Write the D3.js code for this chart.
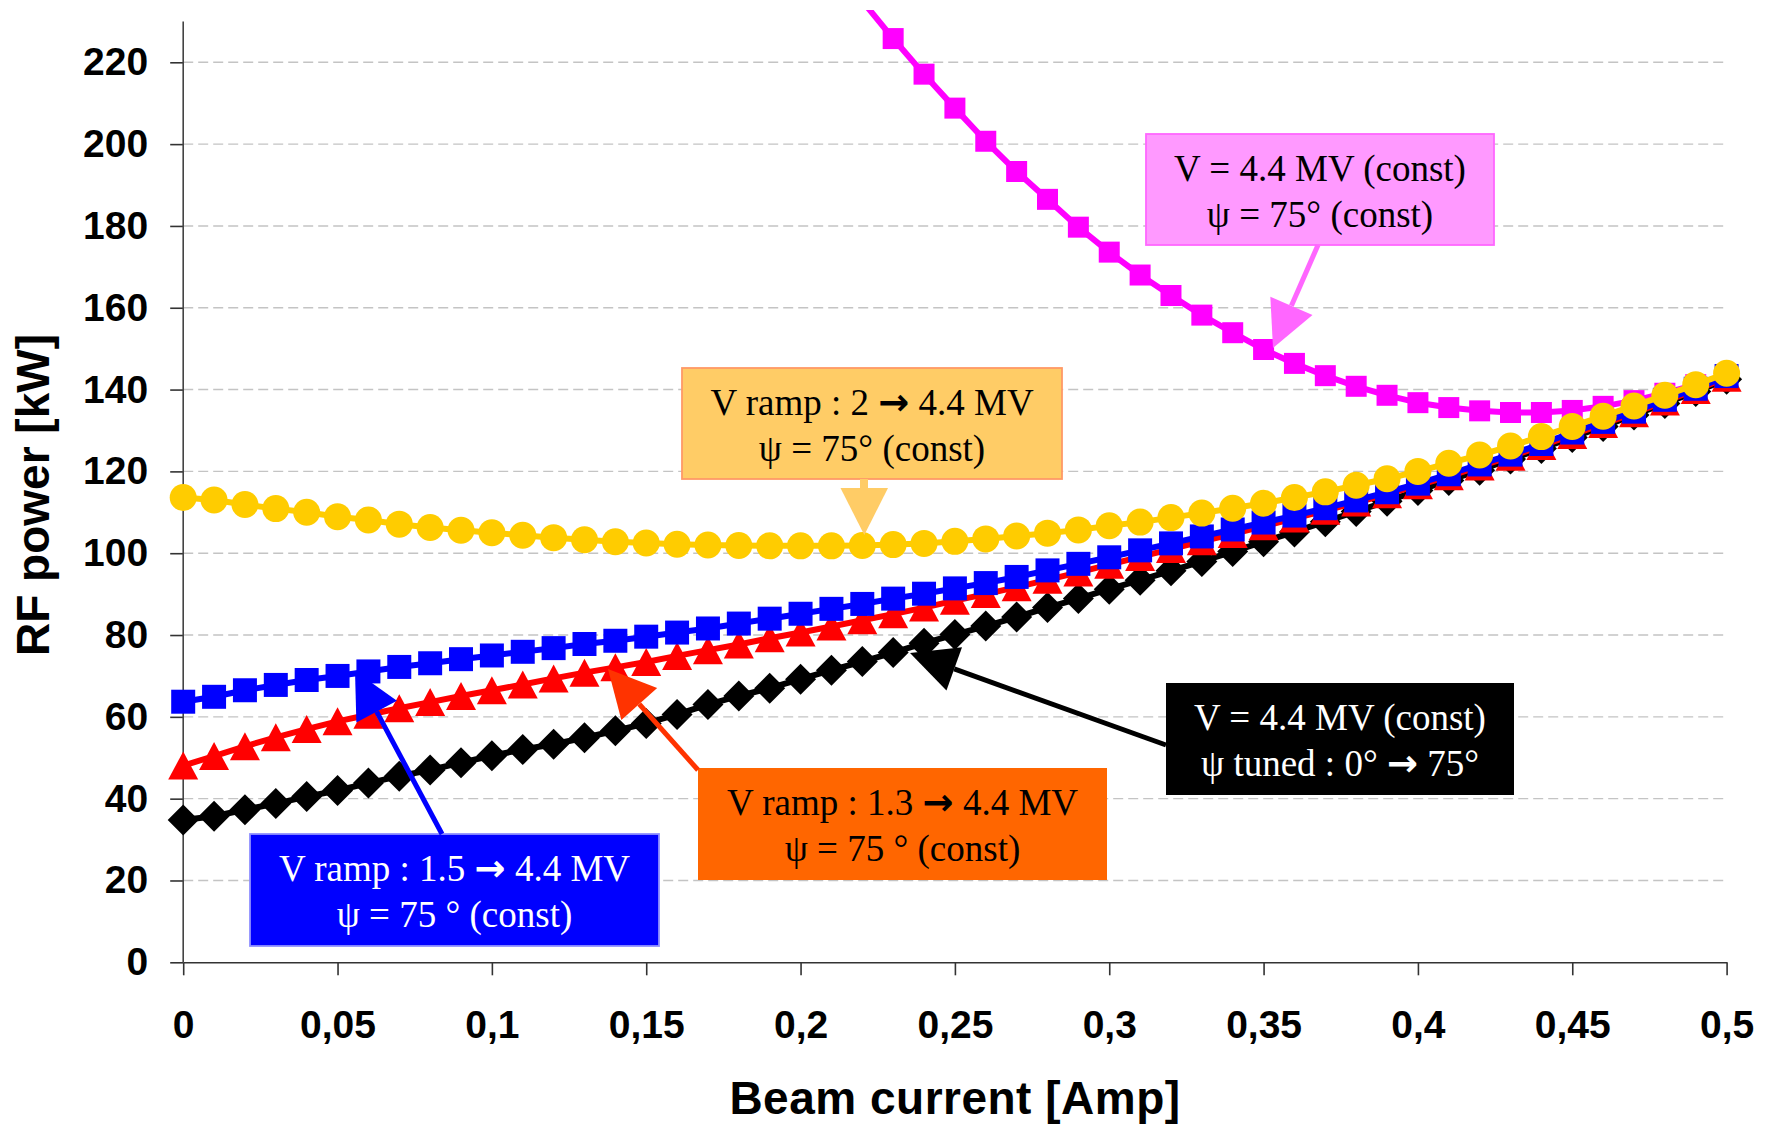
<!DOCTYPE html>
<html>
<head>
<meta charset="utf-8">
<script src="https://cdn.jsdelivr.net/npm/d3@7"></script>
<style>
body { margin: 0; background: #fff; }
</style>
</head>
<body>
<div id="chart"></div>
<script>
// Data
var current    = [ 0, 0.01, 0.02, 0.03, 0.04, 0.05, 0.06, 0.07, 0.08, 0.09,
                   0.1, 0.11, 0.12, 0.13, 0.14, 0.15, 0.16, 0.17, 0.18, 0.19,
                   0.2, 0.21, 0.22, 0.23, 0.24, 0.25, 0.26, 0.27, 0.28, 0.29,
                   0.3, 0.31, 0.32, 0.33, 0.34, 0.35, 0.36, 0.37, 0.38, 0.39,
                   0.4, 0.41, 0.42, 0.43, 0.44, 0.45, 0.46, 0.47, 0.48, 0.49, 0.5 ];

// V = 4.4 MV const, psi tuned 0 -> 75 deg (black)
var p_tuned    = [ 34.8, 35.7, 37.3, 38.8, 40.5, 42.0, 43.8, 45.5, 47.0, 48.8,
                   50.5, 52.0, 53.3, 54.9, 56.6, 58.4, 60.6, 63.0, 65.1, 67.0,
                   69.2, 71.4, 73.5, 75.7, 78.0, 80.1, 82.2, 84.4, 86.7, 88.9,
                   91.2, 93.4, 95.7, 98.0, 100.4, 102.8, 105.2, 107.7, 110.2, 112.7,
                   115.3, 117.8, 120.3, 123.0, 125.6, 128.3, 131.0, 133.8, 136.6, 139.5, 142.5 ];

// V ramp 1.3 -> 4.4 MV (red)
var p_ramp13   = [ 48.1, 50.4, 52.8, 55.0, 57.0, 58.9, 60.5, 62.1, 63.6, 65.1,
                   66.5, 67.9, 69.4, 70.8, 72.1, 73.4, 74.9, 76.3, 77.7, 79.2,
                   80.6, 82.1, 83.6, 85.1, 86.7, 88.4, 90.0, 91.7, 93.5, 95.3,
                   97.2, 99.1, 101.0, 102.9, 104.7, 106.6, 108.5, 110.4, 112.4, 114.4,
                   116.6, 118.8, 121.2, 123.6, 126.2, 128.9, 131.6, 134.2, 137.1, 139.9, 142.9 ];

// V ramp 1.5 -> 4.4 MV (blue)
var p_ramp15   = [ 63.7, 64.9, 66.5, 67.8, 69.0, 70.0, 71.1, 72.2, 73.1, 74.1,
                   75.0, 75.9, 76.8, 77.8, 78.6, 79.6, 80.6, 81.6, 82.8, 84.0,
                   85.2, 86.4, 87.6, 88.9, 90.1, 91.4, 92.7, 94.2, 95.8, 97.4,
                   99.0, 100.7, 102.4, 104.1, 105.8, 107.5, 109.2, 111.0, 112.9, 114.9,
                   117.0, 119.3, 121.7, 124.1, 126.7, 129.5, 132.1, 134.6, 137.5, 140.2, 143.3 ];

// V ramp 2 -> 4.4 MV (yellow)
var p_ramp2    = [ 113.6, 113.0, 111.9, 110.9, 110.0, 108.9, 108.1, 107.1, 106.3, 105.6,
                   105.0, 104.4, 103.8, 103.3, 102.8, 102.5, 102.2, 102.0, 101.9, 101.8,
                   101.8, 101.8, 101.9, 102.1, 102.4, 102.9, 103.5, 104.2, 104.9, 105.7,
                   106.7, 107.6, 108.7, 109.8, 111.0, 112.2, 113.6, 115.0, 116.6, 118.2,
                   120.0, 122.0, 124.0, 126.2, 128.5, 131.0, 133.5, 136.0, 138.6, 141.2, 144.0 ];

// V = 4.4 MV const, psi = 75 deg const (magenta), off scale below 0.22
var p_const    = [ null, null, null, null, null, null, null, null, null, null,
                   null, null, null, null, null, null, null, null, null, null,
                   null, null, 235.0, 225.8, 217.1, 208.8, 200.7, 193.3, 186.5, 179.7,
                   173.6, 168.0, 163.0, 158.2, 153.9, 149.8, 146.4, 143.4, 140.8, 138.6,
                   136.8, 135.6, 134.8, 134.4, 134.4, 134.9, 135.9, 137.3, 139.1, 141.2, 143.7 ];

var x_ticks    = [ 0, 0.05, 0.1, 0.15, 0.2, 0.25, 0.3, 0.35, 0.4, 0.45, 0.5 ];
var y_ticks    = [ 0, 20, 40, 60, 80, 100, 120, 140, 160, 180, 200, 220 ];

var text_const = [ "V = 4.4 MV (const)", "ψ = 75° (const)" ];
var text_ramp2 = [ "V ramp : 2 → 4.4 MV", "ψ = 75° (const)" ];
var text_r13   = [ "V ramp : 1.3 → 4.4 MV", "ψ = 75 ° (const)" ];
var text_r15   = [ "V ramp : 1.5 → 4.4 MV", "ψ = 75 ° (const)" ];
var text_tuned = [ "V = 4.4 MV (const)", "ψ tuned : 0° → 75°" ];

// Layout
var chart_width  = 1773;
var chart_height = 1124;
var y_max        = 230;

var x_scale = d3.scaleLinear().domain( [ 0, 0.5 ] ).range( [ 183.2, 1726.6 ] );
var y_scale = d3.scaleLinear().domain( [ 0, 220 ] ).range( [ 962.3, 62.3 ] );

var svg = d3.select( "#chart" )
    .append( "svg" )
    .attr( "width", chart_width )
    .attr( "height", chart_height )
    .style( "display", "block" );

svg.append( "rect" )
    .attr( "width", chart_width )
    .attr( "height", chart_height )
    .attr( "fill", "#fff" );

svg.append( "clipPath" )
    .attr( "id", "plot-clip" )
    .append( "rect" )
    .attr( "x", 0 )
    .attr( "y", 10 )
    .attr( "width", chart_width )
    .attr( "height", chart_height - 10 );

// Gridlines
svg.append( "g" )
    .selectAll( "line" )
    .data( y_ticks.filter( d => d > 0 ) )
    .enter()
    .append( "line" )
    .attr( "x1", x_scale( 0 ) )
    .attr( "x2", x_scale( 0.5 ) )
    .attr( "y1", d => y_scale( d ) )
    .attr( "y2", d => y_scale( d ) )
    .attr( "stroke", "#c4c4c4" )
    .attr( "stroke-width", 1.4 )
    .attr( "stroke-dasharray", "10,5" );

// Axes
var fmt = d => String( d ).replace( ".", "," );

var y_axis = d3.axisLeft( y_scale )
    .tickValues( y_ticks )
    .tickSize( 13 )
    .tickPadding( 22 )
    .tickSizeOuter( 0 )
    .tickFormat( d => d );

var x_axis = d3.axisBottom( x_scale )
    .tickValues( x_ticks )
    .tickSize( 13 )
    .tickPadding( 35 )
    .tickSizeOuter( 0 )
    .tickFormat( fmt );

var gy = svg.append( "g" )
    .attr( "transform", "translate(" + x_scale( 0 ) + ",0)" )
    .call( y_axis );
gy.select( ".domain" ).remove();
gy.append( "line" )
    .attr( "y1", y_scale( 0 ) )
    .attr( "y2", y_scale( y_max ) )
    .attr( "stroke", "#444" )
    .attr( "stroke-width", 1.6 );

var gx = svg.append( "g" )
    .attr( "transform", "translate(0," + y_scale( 0 ) + ")" )
    .call( x_axis );

svg.selectAll( ".tick line, .domain" )
    .attr( "stroke", "#333" )
    .attr( "stroke-width", 1.6 );
svg.selectAll( ".tick text" )
    .attr( "fill", "#000" )
    .style( "font-family", "'Liberation Sans', Arial, sans-serif" )
    .style( "font-weight", "bold" )
    .style( "font-size", "39px" );

// Axis titles
svg.append( "text" )
    .attr( "transform", "translate(48.5,495) rotate(-90)" )
    .attr( "text-anchor", "middle" )
    .style( "font-family", "'Liberation Sans', Arial, sans-serif" )
    .style( "font-weight", "bold" )
    .style( "font-size", "46px" )
    .text( "RF power [kW]" );

svg.append( "text" )
    .attr( "x", 955 )
    .attr( "y", 1114 )
    .attr( "text-anchor", "middle" )
    .style( "font-family", "'Liberation Sans', Arial, sans-serif" )
    .style( "font-weight", "bold" )
    .style( "font-size", "46px" )
    .style( "letter-spacing", "0.5px" )
    .text( "Beam current [Amp]" );

// Marker shapes
var shape_square = s => ( { draw: function( c ) { c.rect( -s / 2, -s / 2, s, s ); } } );
var shape_diamond = h => ( { draw: function( c ) {
    c.moveTo( 0, -h ); c.lineTo( h, 0 ); c.lineTo( 0, h ); c.lineTo( -h, 0 ); c.closePath();
} } );
var shape_triangle = ( w, t ) => ( { draw: function( c ) {
    c.moveTo( 0, -t / 2 ); c.lineTo( w / 2, t / 2 ); c.lineTo( -w / 2, t / 2 ); c.closePath();
} } );
var shape_circle = r => ( { draw: function( c ) { c.moveTo( r, 0 ); c.arc( 0, 0, r, 0, 2 * Math.PI ); } } );

// Series (drawn back to front)
var series = [
    { values: p_const,  color: "#ff00ff", shape: shape_square( 21 ) },
    { values: p_tuned,  color: "#000000", shape: shape_diamond( 15.5 ) },
    { values: p_ramp13, color: "#ff0000", shape: shape_triangle( 30, 28 ) },
    { values: p_ramp15, color: "#0000ff", shape: shape_square( 24 ) },
    { values: p_ramp2,  color: "#ffcc00", shape: shape_circle( 13.5 ) }
];

var line = d3.line()
    .defined( d => d.v !== null )
    .x( d => x_scale( d.x ) )
    .y( d => y_scale( d.v ) );

var plot = svg.append( "g" ).attr( "clip-path", "url(#plot-clip)" );

series.forEach( function( s ) {
    var pts = current.map( ( x, i ) => ( { x: x, v: s.values[ i ] } ) );
    var g = plot.append( "g" );
    g.append( "path" )
        .datum( pts )
        .attr( "d", line )
        .attr( "fill", "none" )
        .attr( "stroke", s.color )
        .attr( "stroke-width", 6 )
        .attr( "stroke-linejoin", "round" );
    g.selectAll( "path.marker" )
        .data( pts.filter( d => d.v !== null && d.v <= y_max ) )
        .enter()
        .append( "path" )
        .attr( "class", "marker" )
        .attr( "transform", d => "translate(" + x_scale( d.x ) + "," + y_scale( d.v ) + ")" )
        .attr( "d", d3.symbol().type( s.shape )() )
        .attr( "fill", s.color );
} );

// Callouts
var notes = svg.append( "g" );

function arrow( x0, y0, x1, y1, len, half, color ) {
    var dx = x1 - x0, dy = y1 - y0, n = Math.sqrt( dx * dx + dy * dy );
    var ux = dx / n, uy = dy / n;
    var bx = x1 - ux * len, by = y1 - uy * len;
    notes.append( "line" )
        .attr( "x1", x0 ).attr( "y1", y0 )
        .attr( "x2", bx ).attr( "y2", by )
        .attr( "stroke", color )
        .attr( "stroke-width", 5 );
    notes.append( "polygon" )
        .attr( "points", [ [ x1, y1 ], [ bx - uy * half, by + ux * half ], [ bx + uy * half, by - ux * half ] ].join( " " ) )
        .attr( "fill", color );
}

function box( x, y, w, h, fill, stroke, lines, color ) {
    notes.append( "rect" )
        .attr( "x", x ).attr( "y", y )
        .attr( "width", w ).attr( "height", h )
        .attr( "fill", fill )
        .attr( "stroke", stroke )
        .attr( "stroke-width", stroke === "none" ? 0 : 1.8 );
    lines.forEach( function( txt, i ) {
        var t = notes.append( "text" )
            .attr( "x", x + w / 2 )
            .attr( "y", y + 47 + i * 45.5 )
            .attr( "text-anchor", "middle" )
            .attr( "fill", color )
            .style( "font-family", "'Liberation Serif', 'Times New Roman', serif" )
            .style( "font-size", "37px" );
        txt.split( "→" ).forEach( function( part, j ) {
            if ( j > 0 ) {
                t.append( "tspan" )
                    .style( "font-family", "'DejaVu Sans', sans-serif" )
                    .style( "font-weight", "bold" )
                    .style( "font-size", "37px" )
                    .text( "→" );
            }
            t.append( "tspan" ).text( part );
        } );
    } );
}

// magenta
box( 1146, 134, 348, 111, "#ff99ff", "#ff66ff", text_const, "#000" );
arrow( 1318, 245, 1273, 348, 46, 23, "#ff66ff" );

// yellow (block arrow)
box( 682, 368, 380, 111, "#ffcc66", "#ff9966", text_ramp2, "#000" );
notes.append( "rect" )
    .attr( "x", 860 ).attr( "y", 479 )
    .attr( "width", 8 ).attr( "height", 10 )
    .attr( "fill", "#ffcc66" );
notes.append( "polygon" )
    .attr( "points", "840.5,488 888,488 864.3,535" )
    .attr( "fill", "#ffcc66" );

// black
box( 1166, 683, 348, 112, "#000000", "none", text_tuned, "#fff" );
arrow( 1166, 745, 910, 653, 47, 23, "#000000" );

// orange
box( 698, 768, 409, 112, "#ff6600", "none", text_r13, "#000" );
arrow( 698, 770, 608, 669, 47, 24, "#ff3300" );

// blue
box( 250, 834, 409, 112, "#0000ff", "#8f8fff", text_r15, "#fff" );
arrow( 442, 834, 355, 671, 46, 23, "#0000ff" );
</script>
</body>
</html>
